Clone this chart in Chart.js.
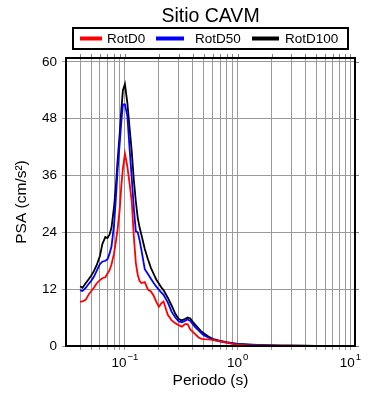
<!DOCTYPE html>
<html lang="es">
<head>
<meta charset="utf-8">
<title>Sitio CAVM</title>
<script src="https://cdn.jsdelivr.net/npm/chart.js@4.4.1/dist/chart.umd.min.js"></script>
<style>
    html, body { margin: 0; padding: 0; background: #fff; }
    #psaChart { display: block; }
</style>
</head>
<body>
<canvas id="psaChart" width="390" height="400"></canvas>
<script>
// Response spectra (PSA in cm/s2)
const periods = [
    0.040, 0.042, 0.045, 0.048, 0.050, 0.053, 0.056, 0.060, 0.063, 0.067,
    0.070, 0.073, 0.076, 0.080, 0.083, 0.086, 0.090, 0.093, 0.096, 0.100,
    0.105, 0.110, 0.115, 0.120, 0.125, 0.130, 0.135, 0.140, 0.150, 0.160,
    0.170, 0.180, 0.190, 0.200, 0.210, 0.220, 0.240, 0.260, 0.280, 0.300,
    0.320, 0.340, 0.360, 0.380, 0.400, 0.420, 0.450, 0.480, 0.500, 0.550,
    0.600, 0.700, 0.800, 0.900, 1.000, 1.200, 1.500, 2.000, 2.500, 3.000,
    4.000, 5.000, 6.000, 7.500, 10.000
];

const rotD0 = [
    9.3, 9.4, 9.8, 11.0, 11.5, 12.3, 13.2, 13.9, 14.3, 14.5,
    15.3, 16.0, 17.2, 19.5, 22.0, 24.5, 29.0, 34.0, 37.5, 40.6,
    37.9, 34.3, 30.5, 23.0, 17.5, 15.0, 13.7, 13.3, 13.5, 11.9,
    11.5, 10.6, 9.3, 8.3, 9.0, 9.4, 6.6, 5.4, 4.8, 4.4,
    4.1, 4.6, 4.6, 3.5, 3.0, 2.5, 1.8, 1.5, 1.45, 1.4,
    1.3, 1.0, 0.7, 0.45, 0.3, 0.2, 0.15, 0.1, 0.07, 0.05,
    0.04, 0.03, 0.02, 0.015, 0.01
];

const rotD50 = [
    11.8, 11.6, 12.3, 13.2, 13.7, 14.6, 15.8, 17.3, 17.8, 18.0,
    18.3, 19.5, 21.0, 25.5, 31.0, 37.0, 43.0, 47.5, 51.0, 51.0,
    48.6, 41.7, 35.4, 29.0, 24.2, 24.0, 22.3, 20.3, 16.2, 15.2,
    14.2, 13.3, 12.5, 11.9, 11.3, 10.8, 9.2, 7.2, 6.0, 5.2,
    5.0, 5.3, 5.6, 5.3, 4.6, 4.0, 3.3, 2.6, 2.3, 1.8,
    1.35, 1.0, 0.7, 0.55, 0.4, 0.3, 0.2, 0.13, 0.09, 0.07,
    0.045, 0.035, 0.025, 0.02, 0.01
];

const rotD100 = [
    12.6, 12.3, 13.3, 14.2, 14.8, 15.8, 17.0, 19.0, 21.5, 23.0,
    22.8, 23.5, 25.0, 29.3, 33.5, 39.0, 45.0, 50.0, 54.0, 55.3,
    51.4, 46.0, 41.0, 35.0, 30.5, 27.0, 25.0, 23.5, 20.5, 18.3,
    16.5, 15.2, 14.0, 13.2, 12.4, 11.8, 10.2, 8.5, 6.8, 5.7,
    5.4, 5.7, 6.0, 5.8, 5.1, 4.5, 3.7, 3.0, 2.7, 2.0,
    1.5, 1.1, 0.8, 0.6, 0.45, 0.35, 0.25, 0.15, 0.10, 0.08,
    0.05, 0.04, 0.03, 0.02, 0.01
];

// Tick / grid positions
const xTickValues = [
    0.04, 0.05, 0.06, 0.07, 0.08, 0.09,
    0.1, 0.2, 0.3, 0.4, 0.5, 0.6, 0.7, 0.8, 0.9,
    1, 2, 3, 4, 5, 6, 7, 8, 9,
    10
];
// labelled decades: base "10" with these exponents
const xTickExponents = { '0.1': '−1', '1': '0', '10': '1' };
const yTickValues = [0, 12, 24, 36, 48, 60];

const chartTitle = 'Sitio CAVM';
const seriesNames = ['RotD0', 'RotD50', 'RotD100'];

const FONT = "'Liberation Sans', 'DejaVu Sans', Arial, sans-serif";
const GRID_COLOR = '#9a9a9a';

document.addEventListener('DOMContentLoaded', function() {
    initializeSpectraChart();
});

function toPoints(values) {
    return periods.map((p, i) => ({ x: p, y: values[i] }));
}

// Frame, outer ticks on top/right, decade labels, title and boxed legend (GMT style)
const frameLegendPlugin = {
    id: 'frameLegend',
    afterDraw(chart) {
        const { ctx, chartArea } = chart;
        const { left, right, top, bottom } = chartArea;
        const xScale = chart.scales.x;
        const yScale = chart.scales.y;

        ctx.save();

        // ticks on top and right edges
        ctx.strokeStyle = '#808080';
        ctx.lineWidth = 1;
        ctx.beginPath();
        xTickValues.forEach(v => {
            const px = Math.round(xScale.getPixelForValue(v)) + 0.5;
            ctx.moveTo(px, top);
            ctx.lineTo(px, top - 4);
        });
        yTickValues.forEach(v => {
            const py = Math.round(yScale.getPixelForValue(v)) + 0.5;
            ctx.moveTo(right, py);
            ctx.lineTo(right + 4, py);
        });
        ctx.stroke();

        // frame
        ctx.strokeStyle = '#000';
        ctx.lineWidth = 2;
        ctx.strokeRect(left, top, right - left, bottom - top);

        // decade labels 10^n
        ctx.fillStyle = '#000';
        ctx.textBaseline = 'alphabetic';
        ctx.textAlign = 'left';
        Object.keys(xTickExponents).forEach(key => {
            const px = xScale.getPixelForValue(Number(key));
            const exp = xTickExponents[key];
            ctx.font = `13.5px ${FONT}`;
            const baseW = ctx.measureText('10').width;
            ctx.font = `9.5px ${FONT}`;
            const expW = ctx.measureText(exp).width;
            const x0 = px - (baseW + expW + 1) / 2;
            ctx.font = `13.5px ${FONT}`;
            ctx.fillText('10', x0, bottom + 21);
            ctx.font = `9.5px ${FONT}`;
            ctx.fillText(exp, x0 + baseW + 1, bottom + 14);
        });

        const cx = (left + right) / 2;

        // title
        ctx.font = `19.5px ${FONT}`;
        ctx.textAlign = 'center';
        ctx.fillText(chartTitle, cx, 22);

        // legend box
        const boxW = 275, boxH = 21, boxY = 28;
        const boxX = cx - boxW / 2;
        ctx.fillStyle = '#fff';
        ctx.fillRect(boxX, boxY, boxW, boxH);
        ctx.strokeStyle = '#000';
        ctx.lineWidth = 2;
        ctx.strokeRect(boxX, boxY, boxW, boxH);

        // item layout inside the box: line start/end and text start, from box left
        const legendSlots = [
            { x1: 7, x2: 29, tx: 34 },
            { x1: 83, x2: 111, tx: 122 },
            { x1: 179, x2: 206, tx: 212 }
        ];
        ctx.font = `13.5px ${FONT}`;
        const midY = boxY + boxH / 2;
        chart.data.datasets.forEach((ds, i) => {
            const slot = legendSlots[i];
            ctx.strokeStyle = ds.borderColor;
            ctx.lineWidth = 4;
            ctx.beginPath();
            ctx.moveTo(boxX + slot.x1, midY);
            ctx.lineTo(boxX + slot.x2, midY);
            ctx.stroke();
            ctx.fillStyle = '#000';
            ctx.textAlign = 'left';
            ctx.textBaseline = 'middle';
            ctx.fillText(ds.label, boxX + slot.tx, midY + 0.5);
        });

        ctx.restore();
    }
};

function initializeSpectraChart() {
    const ctx = document.getElementById('psaChart');
    if (!ctx) return;

    Chart.defaults.font.family = FONT;
    Chart.defaults.color = '#000';

    new Chart(ctx, {
        type: 'line',
        data: {
            datasets: [{
                label: seriesNames[0],
                data: toPoints(rotD0),
                borderColor: '#ff0000',
                backgroundColor: '#ff0000'
            }, {
                label: seriesNames[1],
                data: toPoints(rotD50),
                borderColor: '#0000ff',
                backgroundColor: '#0000ff'
            }, {
                label: seriesNames[2],
                data: toPoints(rotD100),
                borderColor: '#000000',
                backgroundColor: '#000000'
            }]
        },
        options: {
            responsive: false,
            animation: false,
            devicePixelRatio: 1,
            layout: { padding: { top: 58, right: 35, left: 0, bottom: 0 } },
            elements: {
                line: { borderWidth: 1.8, tension: 0, fill: false },
                point: { radius: 0, hoverRadius: 0 }
            },
            plugins: {
                legend: { display: false },
                title: { display: false },
                tooltip: { enabled: false }
            },
            scales: {
                x: {
                    type: 'logarithmic',
                    min: 0.03,
                    max: 11,
                    afterBuildTicks: scale => {
                        scale.ticks = xTickValues.map(v => ({ value: v }));
                    },
                    afterFit: scale => { scale.height = 54; },
                    grid: { color: GRID_COLOR, lineWidth: 1, drawTicks: true, tickLength: 4 },
                    border: { display: false },
                    ticks: {
                        autoSkip: false,
                        maxRotation: 0,
                        callback: () => ''
                    },
                    title: {
                        display: true,
                        text: 'Periodo (s)',
                        font: { size: 15.5 },
                        color: '#000',
                        padding: { top: 0, bottom: 10 }
                    }
                },
                y: {
                    type: 'linear',
                    min: 0,
                    max: 60.8,
                    afterBuildTicks: scale => {
                        scale.ticks = yTickValues.map(v => ({ value: v }));
                    },
                    afterFit: scale => { scale.width = 66; },
                    grid: { color: GRID_COLOR, lineWidth: 1, drawTicks: true, tickLength: 4 },
                    border: { display: false },
                    ticks: {
                        padding: 5,
                        font: { size: 13.5 },
                        color: '#000'
                    },
                    title: {
                        display: true,
                        text: 'PSA (cm/s²)',
                        font: { size: 15.5 },
                        color: '#000',
                        padding: { top: 12, bottom: 0 }
                    }
                }
            }
        },
        plugins: [frameLegendPlugin]
    });
}
</script>
</body>
</html>
